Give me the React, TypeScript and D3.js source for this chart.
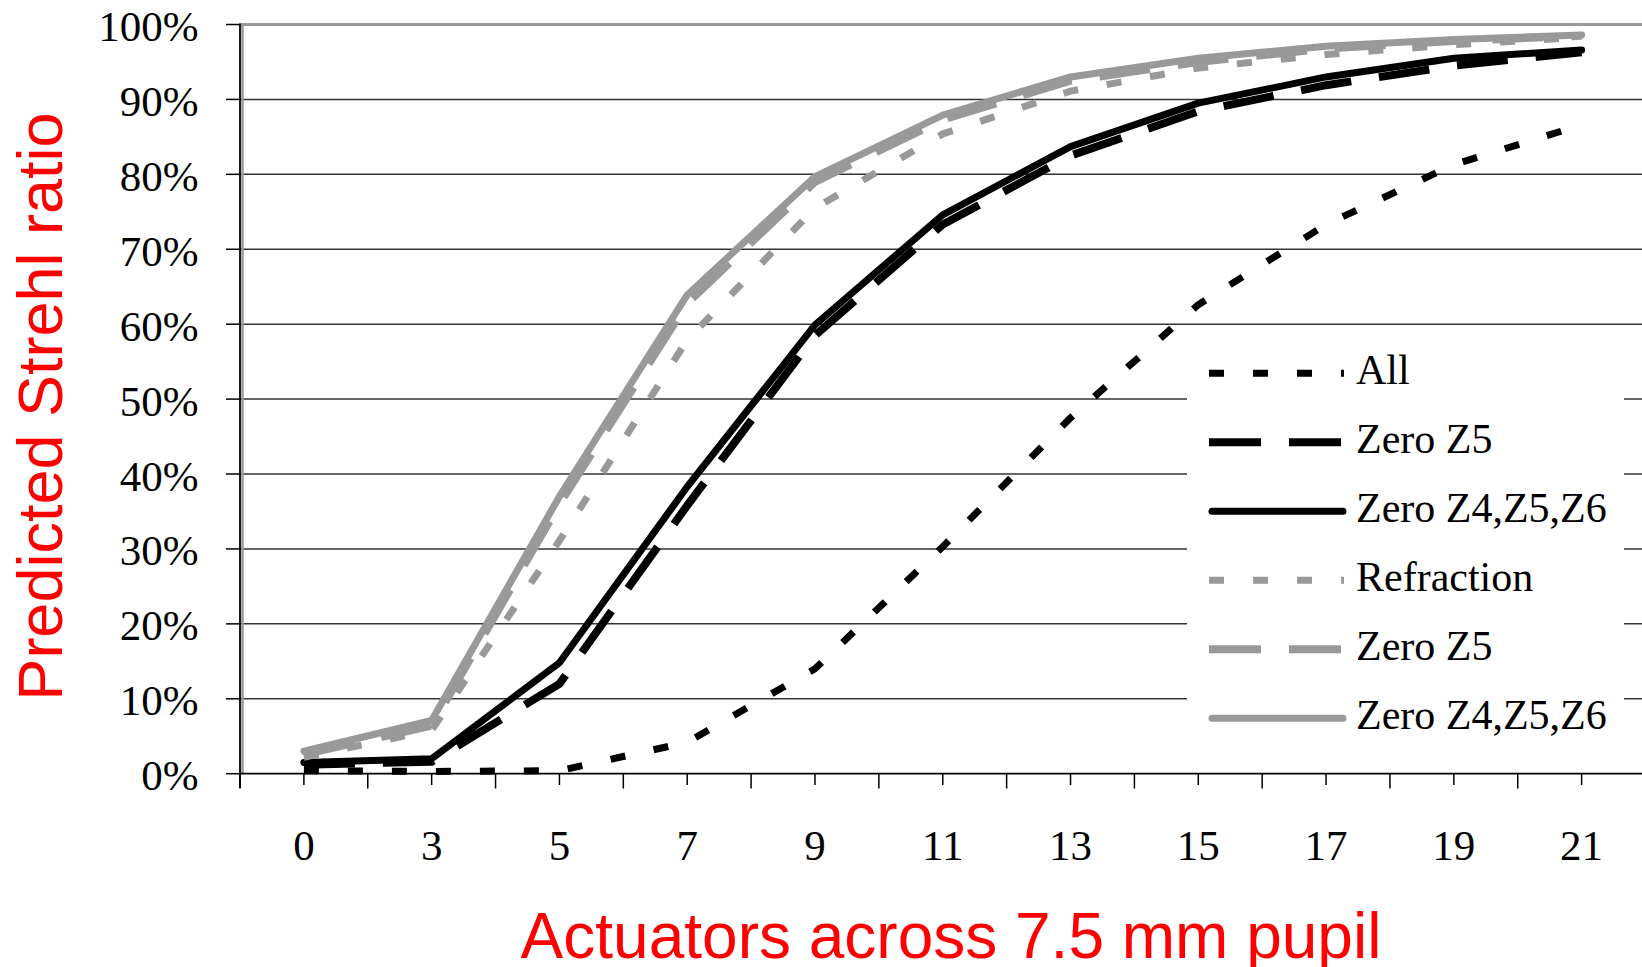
import React, { useEffect, useRef } from "react";
import * as d3 from "d3";

// actuators across pupil (x categories)
const categories = ["0", "3", "5", "7", "9", "11", "13", "15", "17", "19", "21"];

// predicted Strehl ratio, %
const allVals = [0.4, 0.3, 0.4, 4.2, 14.0, 30.3, 47.5, 62.6, 73.3, 81.3, 86.6];
const zeroZ5Vals = [1.2, 1.6, 12.0, 35.8, 58.5, 73.3, 82.5, 88.4, 91.9, 94.5, 96.3];
const zeroZ456Vals = [1.5, 2.0, 14.8, 38.3, 59.9, 74.6, 83.7, 89.5, 93.0, 95.5, 96.6];
const refractionVals = [2.2, 5.8, 31.1, 57.9, 75.5, 85.4, 91.1, 94.2, 96.0, 97.3, 98.3];
const refrZeroZ5Vals = [2.6, 6.4, 36.0, 62.8, 79.0, 87.3, 92.5, 95.0, 96.8, 97.8, 98.5];
const refrZeroZ456Vals = [3.0, 7.1, 37.0, 63.9, 79.7, 87.9, 93.0, 95.5, 97.1, 98.0, 98.6];

const yTicks = [0, 10, 20, 30, 40, 50, 60, 70, 80, 90, 100];

const seriesNames = ["All", "Zero Z5", "Zero Z4,Z5,Z6", "Refraction", "Zero Z5", "Zero Z4,Z5,Z6"];

const App = () => {
  const ref = useRef<SVGSVGElement>(null);

  useEffect(() => {
    const svg = d3.select(ref.current);
    svg.selectAll("*").remove();

    const width = 1642;
    const height = 967;
    const left = 240;
    const right = 1645.5;
    const top = 24.5;
    const bottom = 773.7;

    const x = d3.scaleBand().domain(categories).range([left, right]).padding(0);
    const y = d3.scaleLinear().domain([0, 100]).range([bottom, top]);
    const cx = (c: string) => (x(c) as number) + x.bandwidth() / 2;

    const black = "#000";
    const gray = "#999";
    const series = [
      { values: allVals, color: black, w: 7, dash: "15 29", cap: "butt" },
      { values: zeroZ5Vals, color: black, w: 8, dash: "51 28", cap: "butt" },
      { values: zeroZ456Vals, color: black, w: 7, dash: null, cap: "round" },
      { values: refractionVals, color: gray, w: 7, dash: "15 29", cap: "butt" },
      { values: refrZeroZ5Vals, color: gray, w: 8, dash: "51 28", cap: "butt" },
      { values: refrZeroZ456Vals, color: gray, w: 7, dash: null, cap: "round" },
    ];

    svg.attr("width", width).attr("height", height).attr("viewBox", `0 0 ${width} ${height}`);
    svg.append("rect").attr("width", width).attr("height", height).attr("fill", "#fff");

    // gridlines
    svg.append("g")
      .selectAll("line")
      .data(yTicks.filter(t => t > 0 && t < 100))
      .join("line")
      .attr("x1", left).attr("x2", right)
      .attr("y1", d => y(d)).attr("y2", d => y(d))
      .attr("stroke", "#333").attr("stroke-width", 1.5);

    // plot area border (gray)
    svg.append("line")
      .attr("x1", left).attr("x2", right).attr("y1", top).attr("y2", top)
      .attr("stroke", gray).attr("stroke-width", 3);
    svg.append("line")
      .attr("x1", left + 2.5).attr("x2", left + 2.5).attr("y1", top).attr("y2", bottom)
      .attr("stroke", gray).attr("stroke-width", 2.5);

    // y axis
    svg.append("line")
      .attr("x1", left).attr("x2", left).attr("y1", top - 1).attr("y2", 788)
      .attr("stroke", black).attr("stroke-width", 1.8);
    svg.append("g")
      .selectAll("line")
      .data(yTicks)
      .join("line")
      .attr("x1", 226).attr("x2", left)
      .attr("y1", d => y(d)).attr("y2", d => y(d))
      .attr("stroke", black).attr("stroke-width", 1.5);
    svg.append("g")
      .selectAll("text")
      .data(yTicks)
      .join("text")
      .attr("x", 198.5)
      .attr("y", d => y(d) + 16.5)
      .attr("text-anchor", "end")
      .style("font-family", "'Liberation Serif', 'Times New Roman', serif")
      .style("font-size", "43px")
      .text(d => `${d}%`);

    // x axis
    svg.append("line")
      .attr("x1", left).attr("x2", right).attr("y1", bottom).attr("y2", bottom)
      .attr("stroke", black).attr("stroke-width", 1.8);
    const step = x.step();
    const boundaries = d3.range(categories.length + 1).map(i => left + i * step);
    svg.append("g")
      .selectAll("line")
      .data(boundaries)
      .join("line")
      .attr("x1", d => d).attr("x2", d => d)
      .attr("y1", bottom).attr("y2", 788.5)
      .attr("stroke", black).attr("stroke-width", 1.5);
    svg.append("g")
      .selectAll("line")
      .data(categories)
      .join("line")
      .attr("x1", d => cx(d)).attr("x2", d => cx(d))
      .attr("y1", bottom).attr("y2", 785)
      .attr("stroke", black).attr("stroke-width", 1.5);
    svg.append("g")
      .selectAll("text")
      .data(categories)
      .join("text")
      .attr("x", d => cx(d))
      .attr("y", 860)
      .attr("text-anchor", "middle")
      .style("font-family", "'Liberation Serif', 'Times New Roman', serif")
      .style("font-size", "43px")
      .text(d => d);

    // series lines
    const line = d3.line<number>()
      .x((_, i) => cx(categories[i]))
      .y(d => y(d));

    svg.append("g")
      .selectAll("path")
      .data(series)
      .join("path")
      .attr("d", d => line(d.values))
      .attr("fill", "none")
      .attr("stroke", d => d.color)
      .attr("stroke-width", d => d.w)
      .attr("stroke-dasharray", d => d.dash)
      .attr("stroke-linecap", d => d.cap)
      .attr("stroke-linejoin", "round");

    // legend
    const lg = svg.append("g");
    lg.append("rect")
      .attr("x", 1187).attr("y", 338).attr("width", 437).attr("height", 415)
      .attr("fill", "#fff");
    const entry = lg.selectAll("g.entry")
      .data(series)
      .join("g")
      .attr("class", "entry")
      .attr("transform", (_, i) => `translate(0, ${373.3 + i * 69})`);
    entry.append("line")
      .attr("x1", d => (d.cap === "round" ? 1212 : 1209))
      .attr("x2", d => (d.cap === "round" ? 1343 : 1344))
      .attr("y1", 0).attr("y2", 0)
      .attr("stroke", d => d.color)
      .attr("stroke-width", d => d.w)
      .attr("stroke-dasharray", d => (d.dash === "15 29" ? "15 29" : d.dash ? "52 28" : null))
      .attr("stroke-linecap", d => d.cap);
    entry.append("text")
      .attr("x", 1356)
      .attr("y", 11)
      .style("font-family", "'Liberation Serif', 'Times New Roman', serif")
      .style("font-size", "42px")
      .text((_, i) => seriesNames[i]);

    // axis titles
    svg.append("text")
      .attr("transform", `translate(62, 406.5) rotate(-90)`)
      .attr("text-anchor", "middle")
      .attr("fill", "#ff0000")
      .style("font-family", "'Liberation Sans', Arial, sans-serif")
      .style("font-size", "63px")
      .text("Predicted Strehl ratio");

    svg.append("text")
      .attr("x", 951)
      .attr("y", 958)
      .attr("text-anchor", "middle")
      .attr("fill", "#ff0000")
      .style("font-family", "'Liberation Sans', Arial, sans-serif")
      .style("font-size", "64px")
      .text("Actuators across 7.5 mm pupil");
  }, []);

  return (
    <>
      <style>{`body{margin:0;overflow:hidden}`}</style>
      <svg ref={ref} style={{ display: "block" }} />
    </>
  );
};

export default App;
